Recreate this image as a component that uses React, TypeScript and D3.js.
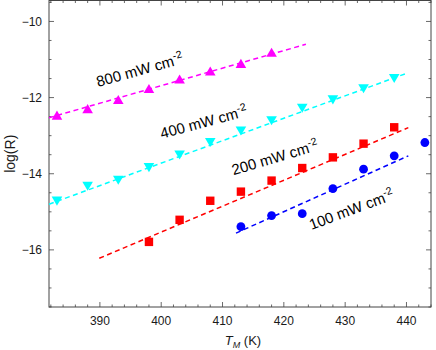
import { useEffect, useRef } from "react";
import * as d3 from "d3";

// temperatures (K) and log(R)
const temps800 = [383, 388, 393, 398, 403, 408, 413, 418];
const logR800 = [-12.47, -12.3, -12.06, -11.77, -11.52, -11.31, -11.11, -10.82];

const temps400 = [383, 388, 393, 398, 403, 408, 413, 418, 423, 428, 433, 438];
const logR400 = [-14.71, -14.32, -14.16, -13.83, -13.5, -13.17, -12.87, -12.6, -12.27, -12.05, -11.76, -11.49];

const temps200 = [398, 403, 408, 413, 418, 423, 428, 433, 438];
const logR200 = [-15.79, -15.21, -14.71, -14.47, -14.18, -13.85, -13.57, -13.21, -12.78];

const temps100 = [413, 418, 423, 428, 433, 438, 443];
const logR100 = [-15.39, -15.1, -15.05, -14.39, -13.88, -13.53, -13.18];

// dashed fit lines: end points [T0, T1] / [logR0, logR1]
const fitT800 = [381.7, 423.6];
const fitY800 = [-12.53, -10.6];
const fitT400 = [381.7, 439.9];
const fitY400 = [-14.8, -11.37];
const fitT200 = [389.9, 440.3];
const fitY200 = [-16.22, -12.79];
const fitT100 = [412.2, 440.3];
const fitY100 = [-15.56, -13.53];

const xTicks = [390, 400, 410, 420, 430, 440];
const yTicks = [-16, -14, -12, -10];

const seriesLabels = ["800 mW cm", "400 mW cm", "200 mW cm", "100 mW cm"];

type Series = {
  t: number[];
  v: number[];
  fitT: number[];
  fitY: number[];
  color: string;
  marker: string;
  label: string;
  at: [number, number]; // label anchor, data units
  angle: number;
};

const series: Series[] = [
  { t: temps800, v: logR800, fitT: fitT800, fitY: fitY800, color: "#ff00ff", marker: "up", label: seriesLabels[0], at: [389.7, -11.72], angle: -15.5 },
  { t: temps400, v: logR400, fitT: fitT400, fitY: fitY400, color: "#00ffff", marker: "down", label: seriesLabels[1], at: [400.1, -13.08], angle: -15 },
  { t: temps200, v: logR200, fitT: fitT200, fitY: fitY200, color: "#ff0000", marker: "square", label: seriesLabels[2], at: [411.8, -14.04], angle: -16.5 },
  { t: temps100, v: logR100, fitT: fitT100, fitY: fitY100, color: "#0000ff", marker: "circle", label: seriesLabels[3], at: [424.5, -15.48], angle: -20.5 },
];

const markerPath: Record<string, string> = {
  up: "M0,-4.9L5.3,4.2L-5.3,4.2Z",
  down: "M0,4.9L5.3,-4.2L-5.3,-4.2Z",
  square: "M-4.2,-4.2H4.2V4.2H-4.2Z",
};

export default function App() {
  const ref = useRef<SVGSVGElement>(null);

  useEffect(() => {
    const width = 436,
      height = 350;
    const svg = d3.select(ref.current);
    svg.selectAll("*").remove();
    svg.attr("width", width).attr("height", height);

    const x = d3.scaleLinear().domain([381.7, 444]).range([49, 431]);
    const y = d3.scaleLinear().domain([-17.5, -9.45]).range([307, 0.5]);
    const [x0, x1] = x.range();
    const [y0, y1] = y.range();

    const font = "'Liberation Sans', Arial, sans-serif";
    const frameColor = "#444";

    // frame
    svg
      .append("rect")
      .attr("x", x0)
      .attr("y", y1)
      .attr("width", x1 - x0)
      .attr("height", y0 - y1)
      .attr("fill", "none")
      .attr("stroke", frameColor)
      .attr("stroke-width", 1);

    // ticks, inward on all sides
    const minorX = d3.range(382, 444.1, 2).filter((d) => !xTicks.includes(d));
    const minorY = d3.range(-17.5, -9.4, 0.5).filter((d) => !yTicks.includes(d));
    const ticks = svg.append("g").attr("stroke", frameColor).attr("stroke-width", 0.8);

    const xt = [
      ...xTicks.map((d) => ({ v: d, len: 5 })),
      ...minorX.map((d) => ({ v: d, len: 2.5 })),
    ];
    const yt = [
      ...yTicks.map((d) => ({ v: d, len: 5 })),
      ...minorY.map((d) => ({ v: d, len: 2.5 })),
    ];
    xt.forEach((d) => {
      ticks.append("line").attr("x1", x(d.v)).attr("x2", x(d.v)).attr("y1", y0).attr("y2", y0 - d.len);
      ticks.append("line").attr("x1", x(d.v)).attr("x2", x(d.v)).attr("y1", y1).attr("y2", y1 + d.len);
    });
    yt.forEach((d) => {
      ticks.append("line").attr("y1", y(d.v)).attr("y2", y(d.v)).attr("x1", x0).attr("x2", x0 + d.len);
      ticks.append("line").attr("y1", y(d.v)).attr("y2", y(d.v)).attr("x1", x1).attr("x2", x1 - d.len);
    });

    // tick labels
    svg
      .append("g")
      .selectAll("text")
      .data(xTicks)
      .enter()
      .append("text")
      .attr("x", (d) => x(d))
      .attr("y", y0 + 18)
      .attr("text-anchor", "middle")
      .style("font-family", font)
      .style("font-size", "12px")
      .style("fill", "#1a1a1a")
      .text((d) => d3.format("d")(d));

    svg
      .append("g")
      .selectAll("text")
      .data(yTicks)
      .enter()
      .append("text")
      .attr("x", x0 - 7)
      .attr("y", (d) => y(d) + 4.3)
      .attr("text-anchor", "end")
      .style("font-family", font)
      .style("font-size", "12px")
      .style("fill", "#1a1a1a")
      .text((d) => d3.format("d")(d));

    // axis titles
    const xl = svg
      .append("text")
      .attr("x", (x0 + x1) / 2 + 3)
      .attr("y", 345)
      .attr("text-anchor", "middle")
      .style("font-family", font)
      .style("font-size", "13px")
      .style("fill", "#1a1a1a");
    xl.append("tspan").style("font-style", "italic").text("T");
    xl.append("tspan").style("font-style", "italic").style("font-size", "9px").attr("dy", 3).text("M");
    xl.append("tspan").attr("dy", -3).text(" (K)");

    svg
      .append("text")
      .attr("transform", `translate(15,${(y0 + y1) / 2}) rotate(-90)`)
      .attr("text-anchor", "middle")
      .style("font-family", font)
      .style("font-size", "14px")
      .style("fill", "#1a1a1a")
      .text("log(R)");

    // fit lines
    const line = d3
      .line<[number, number]>()
      .x((d) => x(d[0]))
      .y((d) => y(d[1]));

    series.forEach((s) => {
      svg
        .append("path")
        .datum(s.fitT.map((t, i) => [t, s.fitY[i]] as [number, number]))
        .attr("fill", "none")
        .attr("stroke", s.color)
        .attr("stroke-width", 1.5)
        .attr("stroke-dasharray", "5,3.5")
        .attr("d", line);
    });

    // markers
    series.forEach((s) => {
      const g = svg.append("g").attr("fill", s.color);
      s.t.forEach((t, i) => {
        if (s.marker === "circle") {
          g.append("circle").attr("cx", x(t)).attr("cy", y(s.v[i])).attr("r", 4.4);
        } else {
          g.append("path")
            .attr("transform", `translate(${x(t)},${y(s.v[i])})`)
            .attr("d", markerPath[s.marker]);
        }
      });
    });

    // series labels
    series.forEach((s) => {
      const txt = svg
        .append("text")
        .attr("transform", `translate(${x(s.at[0])},${y(s.at[1])}) rotate(${s.angle})`)
        .style("font-family", font)
        .style("font-size", "15px")
        .style("fill", "#000");
      txt.append("tspan").text(s.label);
      txt.append("tspan").attr("dy", -6).style("font-size", "10.5px").text("-2");
    });
  }, []);

  return <svg ref={ref} style={{ position: "absolute", left: 0, top: 0 }} />;
}
